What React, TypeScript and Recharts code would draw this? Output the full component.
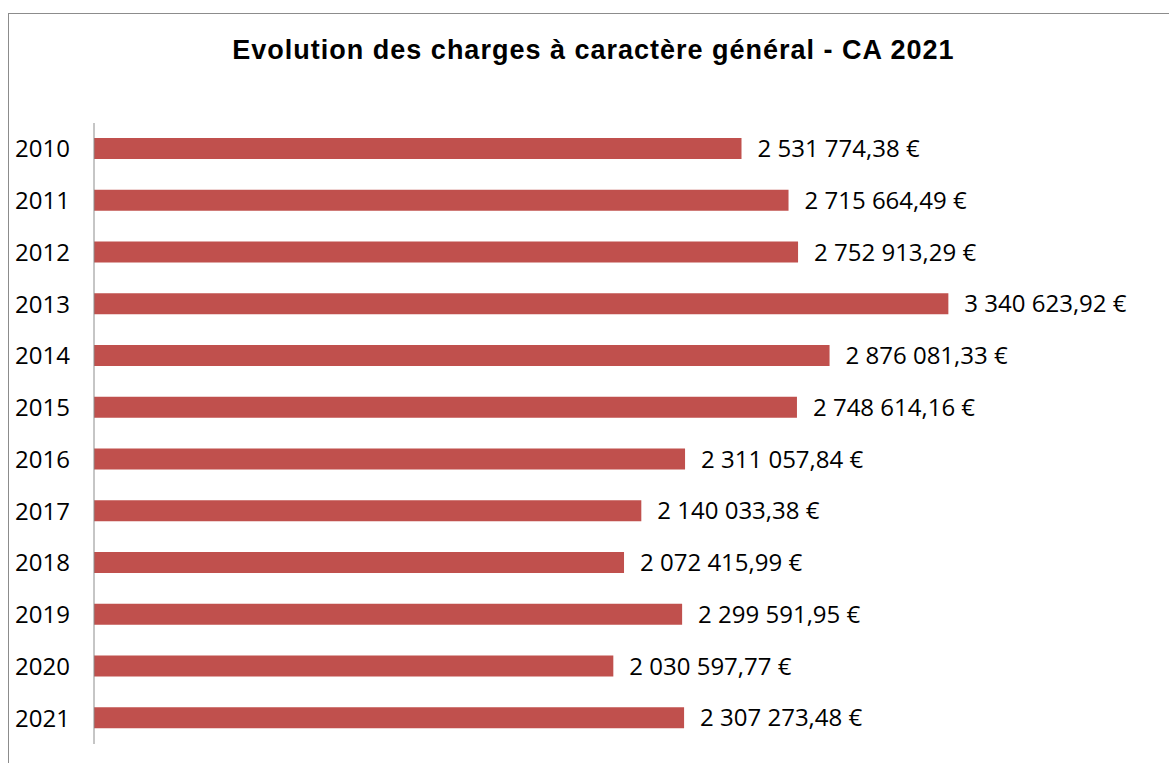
import { BarChart, Bar, XAxis, YAxis, LabelList } from "recharts";

const years = ["2010", "2011", "2012", "2013", "2014", "2015", "2016", "2017", "2018", "2019", "2020", "2021"];
const charges = [
  2531774.38, 2715664.49, 2752913.29, 3340623.92, 2876081.33, 2748614.16,
  2311057.84, 2140033.38, 2072415.99, 2299591.95, 2030597.77, 2307273.48,
];

const data = years.map((year, i) => ({ year, charges: charges[i] }));

// 2 531 774,38 €
const formatEuro = (v: number) => {
  const [int, dec] = v.toFixed(2).split(".");
  const grouped = int.replace(/\B(?=(\d{3})+(?!\d))/g, " ");
  return `${grouped},${dec} €`;
};

export default function App() {
  return (
    <div style={{ position: "absolute", left: 0, top: 0, width: 1169, height: 763, background: "#fff" }}>
      <div
        style={{
          position: "absolute",
          left: 8,
          top: 13,
          right: 0,
          bottom: 0,
          borderTop: "1px solid #8c8c8c",
          borderLeft: "1px solid #8c8c8c",
        }}
      />
      <div
        style={{
          position: "absolute",
          left: 18,
          width: 1151,
          top: 37,
          textAlign: "center",
          fontFamily: "'Liberation Sans', Arial, sans-serif",
          fontWeight: "bold",
          fontSize: 27,
          letterSpacing: 1,
          lineHeight: "27px",
          color: "#000",
        }}
      >
        Evolution des charges à caractère général - CA 2021
      </div>
      <div style={{ position: "absolute", left: 0, top: 0 }}>
        <BarChart
          width={1169}
          height={763}
          layout="vertical"
          data={data}
          margin={{ top: 123, right: 52, left: 0, bottom: 19 }}
        >
          <XAxis type="number" domain={[0, 4000000]} hide />
          <YAxis
            type="category"
            dataKey="year"
            width={94}
            tickLine={false}
            tickMargin={18}
            axisLine={{ stroke: "#8c8c8c", strokeWidth: 1 }}
            tick={{ fill: "#000", fontSize: 24, fontFamily: "'Open Sans', sans-serif" }}
          />
          <Bar dataKey="charges" fill="#C0504D" barSize={21} isAnimationActive={false}>
            <LabelList
              dataKey="charges"
              position="right"
              offset={16}
              formatter={(v: any) => formatEuro(Number(v))}
              style={{ fill: "#000", fontSize: 24, fontFamily: "'Open Sans', sans-serif" }}
            />
          </Bar>
        </BarChart>
      </div>
    </div>
  );
}
